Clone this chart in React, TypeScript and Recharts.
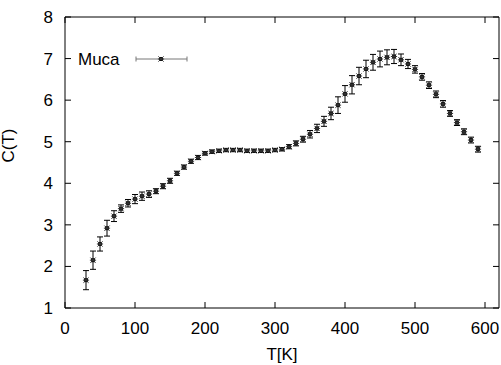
import React from 'react';
import { ScatterChart, Scatter, XAxis, YAxis, ErrorBar } from 'recharts';

const temps = [30, 40, 50, 60, 70, 80, 90, 100, 110, 120, 130, 140, 150, 160, 170, 180, 190, 200, 210, 220, 230, 240, 250, 260, 270, 280, 290, 300, 310, 320, 330, 340, 350, 360, 370, 380, 390, 400, 410, 420, 430, 440, 450, 460, 470, 480, 490, 500, 510, 520, 530, 540, 550, 560, 570, 580, 590];
const heatCapacity = [1.67, 2.15, 2.54, 2.92, 3.21, 3.39, 3.52, 3.62, 3.69, 3.74, 3.81, 3.93, 4.06, 4.24, 4.39, 4.53, 4.62, 4.72, 4.76, 4.78, 4.8, 4.8, 4.8, 4.78, 4.78, 4.78, 4.78, 4.8, 4.82, 4.88, 4.96, 5.06, 5.18, 5.32, 5.49, 5.68, 5.88, 6.15, 6.37, 6.58, 6.75, 6.91, 6.99, 7.03, 7.05, 6.97, 6.87, 6.74, 6.56, 6.36, 6.14, 5.91, 5.68, 5.46, 5.24, 5.04, 4.82];
const errors = [0.23, 0.22, 0.17, 0.19, 0.13, 0.09, 0.09, 0.11, 0.1, 0.08, 0.06, 0.06, 0.06, 0.05, 0.05, 0.05, 0.05, 0.04, 0.04, 0.04, 0.04, 0.04, 0.04, 0.04, 0.04, 0.04, 0.04, 0.04, 0.04, 0.05, 0.06, 0.07, 0.09, 0.1, 0.12, 0.15, 0.2, 0.2, 0.22, 0.21, 0.21, 0.19, 0.19, 0.18, 0.17, 0.14, 0.11, 0.09, 0.08, 0.08, 0.08, 0.08, 0.07, 0.07, 0.07, 0.07, 0.07];
const xTicks = [0, 100, 200, 300, 400, 500, 600];
const yTicks = [1, 2, 3, 4, 5, 6, 7, 8];
const seriesName = 'Muca';

const data = temps.map((t, i) => ({ t, c: heatCapacity[i], err: errors[i] }));

const FONT = 'Liberation Sans, Arial, Helvetica, sans-serif';

const StarShape = (props: any) => {
  const { cx, cy } = props;
  if (cx == null || cy == null) return null;
  const s = 2.6;
  return (
    <g>
      <rect x={cx - 2} y={cy - 2} width={4} height={4} fill="#111" />
      <path
        d={`M${cx - s},${cy - s}L${cx + s},${cy + s}M${cx - s},${cy + s}L${cx + s},${cy - s}M${cx - s - 0.5},${cy}L${cx + s + 0.5},${cy}`}
        stroke="#333"
        strokeWidth={1}
      />
    </g>
  );
};

const NoShape = () => <g />;

const LegendBox = () => (
  <svg width={200} height={30} style={{ position: 'absolute', left: 65, top: 46, display: 'block' }}>
    <text x={13} y={19} fontFamily={FONT} fontSize={17} fill="#000">{seriesName}</text>
    <line x1={71} y1={13} x2={122} y2={13} stroke="#777" strokeWidth={1} />
    <line x1={71} y1={10.5} x2={71} y2={15.5} stroke="#777" strokeWidth={1} />
    <line x1={122} y1={10.5} x2={122} y2={15.5} stroke="#777" strokeWidth={1} />
    <StarShape cx={96} cy={13} />
  </svg>
);

export default function App() {
  const tickStyle = { fontSize: 17, fontFamily: FONT, fill: '#000' };
  return (
    <div style={{ position: 'absolute', left: 0, top: 0, width: 501, height: 365, background: '#fff' }}>
      <ScatterChart width={501} height={365} margin={{ top: 16, right: 1, bottom: 0, left: 0 }}>
        <XAxis
          dataKey="t"
          type="number"
          domain={[0, 620]}
          ticks={xTicks}
          allowDataOverflow
          height={57}
          stroke="#000"
          tickSize={-6}
          tickMargin={20}
          tick={tickStyle}
          label={{ value: 'T[K]', position: 'insideBottom', offset: 5, fontSize: 17, fontFamily: FONT, fill: '#000' }}
        />
        <XAxis
          xAxisId="top"
          dataKey="t"
          orientation="top"
          type="number"
          domain={[0, 620]}
          ticks={xTicks}
          allowDataOverflow
          height={1}
          stroke="#000"
          tickSize={-6}
          tickFormatter={() => ''}
        />
        <YAxis
          dataKey="c"
          type="number"
          domain={[1, 8]}
          ticks={yTicks}
          allowDataOverflow
          width={65}
          stroke="#000"
          tickSize={-6}
          tickMargin={18}
          tick={tickStyle}
          label={{ value: 'C(T)', angle: -90, position: 'insideLeft', offset: 8, fontSize: 17, fontFamily: FONT, fill: '#000' }}
        />
        <YAxis
          yAxisId="right"
          dataKey="c"
          orientation="right"
          type="number"
          domain={[1, 8]}
          ticks={yTicks}
          allowDataOverflow
          width={1}
          stroke="#000"
          tickSize={-6}
          tickFormatter={() => ''}
        />
        <Scatter xAxisId="top" yAxisId="right" data={data} shape={NoShape} isAnimationActive={false} />
        <Scatter name={seriesName} data={data} shape={StarShape} isAnimationActive={false}>
          <ErrorBar dataKey="err" direction="y" width={3} stroke="#000" strokeWidth={1} />
        </Scatter>
      </ScatterChart>
      <LegendBox />
    </div>
  );
}
